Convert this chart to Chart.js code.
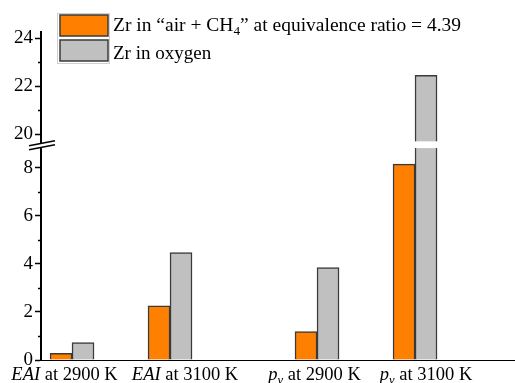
<!DOCTYPE html>
<html>
<head>
<meta charset="utf-8">
<script src="https://cdn.jsdelivr.net/npm/chart.js@4.4.1/dist/chart.umd.min.js"></script>
<style>
  html, body { margin: 0; padding: 0; background: #fff; }
</style>
</head>
<body>
<canvas id="chart" width="515" height="383"></canvas>
<script>
// data
const categories = ['EAI at 2900 K', 'EAI at 3100 K', 'p_v at 2900 K', 'p_v at 3100 K'];
const airCH4 = [0.28, 2.25, 1.18, 8.15];
const oxygen = [0.73, 4.47, 3.85, 22.45];
const yTicks = [0, 2, 4, 6, 8, 20, 22, 24];
const yMinorTicks = [1, 3, 5, 7, 21, 23];
const seriesNames = ['Zr in \u201Cair + CH_4\u201D at equivalence ratio = 4.39', 'Zr in oxygen'];

// broken y axis: everything above BREAK_LO is shifted down by SHIFT
const BREAK_LO = 9;
const SHIFT = 10.6;
const tv = v => (v <= BREAK_LO ? v : v - SHIFT);
const untv = v => (v <= BREAK_LO + 0.01 ? v : v + SHIFT);

// slots on the x axis (an extra empty slot between the EAI and p_v groups)
const slot = i => i * 2 + (i >= 2 ? 1 : 0);

const FONT = '"Liberation Serif", "Times New Roman", serif';
const ORANGE = '#FF8000';
const GREY = '#C0C0C0';
const EDGE = '#3a3a3a';

Chart.defaults.font.family = FONT;

// splits "abc_x def" into parts: first word may be italic, _x is a subscript
function richParts(text, italicFirst) {
  const parts = [];
  const re = /_(\w)/g;
  let last = 0, m;
  while ((m = re.exec(text)) !== null) {
    parts.push({ t: text.slice(last, m.index) });
    parts.push({ t: m[1], sub: true });
    last = m.index + m[0].length;
  }
  parts.push({ t: text.slice(last) });
  if (italicFirst) {
    const out = [];
    let done = false;
    parts.forEach(p => {
      if (done) { out.push(p); return; }
      const sp = p.t.indexOf(' ');
      if (sp < 0) { out.push({ ...p, it: true }); }
      else {
        out.push({ ...p, t: p.t.slice(0, sp), it: true });
        out.push({ t: p.t.slice(sp) });
        done = true;
      }
    });
    return out;
  }
  return parts;
}

function partFont(p, size) {
  const s = p.sub ? size * 0.68 : size;
  return (p.it ? 'italic ' : '') + s + 'px ' + FONT;
}

function drawRich(ctx, parts, x, y, size, align) {
  let w = 0;
  parts.forEach(p => { ctx.font = partFont(p, size); w += ctx.measureText(p.t).width; });
  let cx = align === 'center' ? x - w / 2 : x;
  ctx.textAlign = 'left';
  ctx.textBaseline = 'alphabetic';
  parts.forEach(p => {
    ctx.font = partFont(p, size);
    ctx.fillText(p.t, cx, p.sub ? y + size * 0.22 : y);
    cx += ctx.measureText(p.t).width;
  });
}

// label centres are offset a little from the bar groups in the original
const labelShift = [-7.5, 15, -2.5, 11];

const extras = {
  id: 'extras',
  afterDatasetsDraw(chart) {
    const ctx = chart.ctx;
    const xs = chart.scales.x, ys = chart.scales.y;
    const axisX = chart.chartArea.left;
    ctx.save();
    ctx.fillStyle = '#000';

    // minor ticks
    ctx.strokeStyle = '#000';
    ctx.lineWidth = 1.5;
    yMinorTicks.forEach(v => {
      const py = Math.round(ys.getPixelForValue(tv(v))) + 0.5;
      ctx.beginPath();
      ctx.moveTo(axisX - 3, py);
      ctx.lineTo(axisX, py);
      ctx.stroke();
    });

    // gap in the tall bar at the break
    const meta = chart.getDatasetMeta(1);
    const yTop = ys.getPixelForValue(9.1), yBot = ys.getPixelForValue(8.82);
    meta.data.forEach((bar, i) => {
      if (oxygen[i] > BREAK_LO) {
        ctx.fillStyle = '#fff';
        ctx.fillRect(bar.x - bar.width / 2 - 2, yTop, bar.width + 4, yBot - yTop);
      }
    });

    // axis break marks
    const yb = ys.getPixelForValue(8.93);
    ctx.fillStyle = '#fff';
    ctx.beginPath();
    ctx.moveTo(axisX - 12, yb + 0.3);
    ctx.lineTo(axisX + 14, yb - 4.7);
    ctx.lineTo(axisX + 14, yb - 0.7);
    ctx.lineTo(axisX - 12, yb + 4.3);
    ctx.closePath();
    ctx.fill();
    ctx.strokeStyle = '#000';
    ctx.lineWidth = 1.4;
    [[0.3, -4.7], [4.3, -0.7]].forEach(([a, b]) => {
      ctx.beginPath();
      ctx.moveTo(axisX - 12, yb + a);
      ctx.lineTo(axisX + 14, yb + b);
      ctx.stroke();
    });

    // category labels
    ctx.fillStyle = '#000';
    categories.forEach((c, i) => {
      const px = xs.getPixelForValue(slot(i)) + labelShift[i];
      drawRich(ctx, richParts(c, true), px, 380, 18.5, 'center');
    });

    // legend
    ctx.strokeStyle = '#cfcfcf';
    ctx.lineWidth = 1;
    ctx.strokeRect(57.5, 13.5, 52, 50);
    [ORANGE, GREY].forEach((col, i) => {
      const top = 15 + i * 25;
      ctx.fillStyle = col;
      ctx.fillRect(60, top, 48, 21);
      ctx.strokeStyle = EDGE;
      ctx.lineWidth = 1.5;
      ctx.strokeRect(60, top, 48, 21);
    });
    ctx.fillStyle = '#000';
    drawRich(ctx, richParts(seriesNames[0], false), 113, 31, 19.5, 'left');
    drawRich(ctx, richParts(seriesNames[1], false), 113, 59, 19, 'left');

    ctx.restore();
  }
};

new Chart(document.getElementById('chart'), {
  type: 'bar',
  data: {
    datasets: [
      {
        label: seriesNames[0],
        data: airCH4.map((v, i) => ({ x: slot(i), y: tv(v) })),
        backgroundColor: ORANGE,
        borderColor: EDGE,
        borderWidth: 1.5,
        barThickness: 22
      },
      {
        label: seriesNames[1],
        data: oxygen.map((v, i) => ({ x: slot(i), y: tv(v) })),
        backgroundColor: GREY,
        borderColor: EDGE,
        borderWidth: 1.5,
        barThickness: 22
      }
    ]
  },
  options: {
    responsive: false,
    animation: false,
    layout: { padding: { top: 32, right: 0, left: 0, bottom: 0 } },
    plugins: { legend: { display: false }, tooltip: { enabled: false } },
    scales: {
      x: {
        type: 'linear',
        offset: false,
        min: -0.633,
        max: 9.04,
        ticks: { display: false },
        grid: { display: false, offset: false },
        border: { display: true, color: '#000', width: 1 },
        afterFit: s => { s.height = 23; }
      },
      y: {
        min: 0,
        max: tv(24.25),
        afterBuildTicks: s => { s.ticks = yTicks.map(v => ({ value: tv(v) })); },
        ticks: {
          color: '#000',
          padding: 2,
          font: { family: FONT, size: 19 },
          callback: v => Math.round(untv(v))
        },
        grid: {
          drawOnChartArea: false,
          drawTicks: true,
          tickLength: 6,
          tickWidth: 1.5,
          tickColor: '#000'
        },
        border: { display: true, color: '#000', width: 2 },
        afterFit: s => { s.width = 41; }
      }
    }
  },
  plugins: [extras]
});
</script>
</body>
</html>
